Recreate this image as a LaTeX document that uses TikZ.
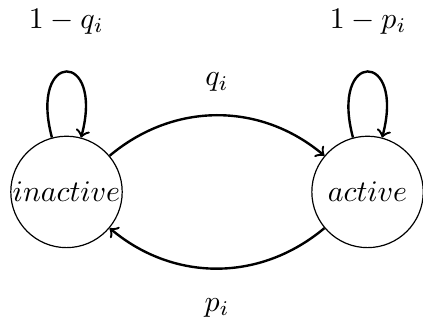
\documentclass[tikz,border=0pt]{standalone}
\usetikzlibrary{positioning}

\tikzset{
  state/.style={circle, draw, thin, inner sep=0pt, minimum size=1.31cm},
  trans/.style={->, thick}
}

\begin{document}
\begin{tikzpicture}
    % Frame
    \useasboundingbox (0,0) rectangle (4.974,3.786);

    % States
    \node[state] (inactive) at (0.782,1.529) {$inactive$};
    \node[state] (active) at (4.322,1.529) {$active$};

    % Self loops
    \draw[trans] (inactive) to[loop above] (inactive);
    \draw[trans] (active) to[loop above] (active);
    \node (stayinact) at (0.78,3.53) {$1-q_i$};
    \node (stayact) at (4.33,3.53) {$1-p_i$};

    % Switching
    \draw[trans] (inactive) to[bend left=40] node[above=4.3pt] (switchon) {$q_i$} (active);
    \draw[trans] (active) to[bend left=40] node[below=6.3pt] (switchoff) {$p_i$} (inactive);
\end{tikzpicture}
\end{document}
